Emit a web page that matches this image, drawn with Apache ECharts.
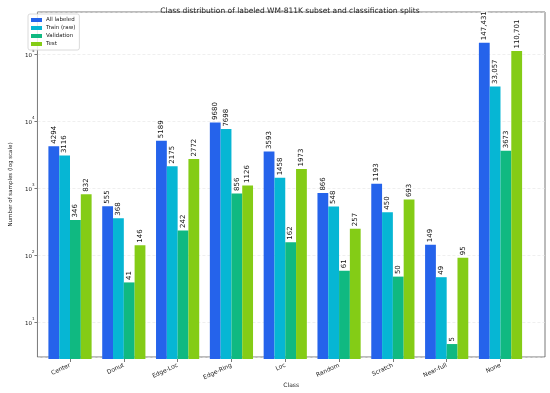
<!DOCTYPE html>
<html>
<head>
<meta charset="utf-8">
<script src="https://cdn.jsdelivr.net/npm/echarts@6/dist/echarts.min.js"></script>
<style>html,body{margin:0;padding:0;background:#fff}#c{width:550px;height:393px}</style>
</head>
<body>
<div id="c"></div>
<script>
const categories = ['Center','Donut','Edge-Loc','Edge-Ring','Loc','Random','Scratch','Near-full','None'];
const allLabeled = [4294, 555, 5189, 9680, 3593, 866, 1193, 149, 147431];
const trainRaw   = [3116, 368, 2175, 7698, 1458, 548, 450, 49, 33057];
const validation = [346, 41, 242, 856, 162, 61, 50, 5, 3673];
const test       = [832, 146, 2772, 1126, 1973, 257, 693, 95, 110701];
const seriesNames = ['All labeled','Train (raw)','Validation','Test'];
const colors = ['#2563eb','#06b6d4','#10b981','#84cc16'];

const FONT = 'DejaVu Sans';
const chart = echarts.init(document.getElementById('c'), null, {renderer:'canvas'});

function fmt(v){ return v >= 10000 ? v.toLocaleString('en-US') : String(v); }
function isPow(v){ const l = Math.log10(v); return Math.abs(l - Math.round(l)) < 1e-6; }

const yMin = 3, yMax = 420000;
const seriesData = [allLabeled, trainRaw, validation, test];

const option = {
  animation: false,
  backgroundColor: '#fff',
  textStyle: {fontFamily: FONT},
  title: {
    text: 'Class distribution of labeled WM-811K subset and classification splits',
    left: 285, top: 2, textAlign: 'center',
    textStyle: {fontFamily: FONT, fontSize: 7.5, fontWeight: 'normal', color: '#222'}
  },
  legend: {
    data: seriesNames,
    orient: 'vertical', left: 28, top: 14,
    itemWidth: 11, itemHeight: 4, itemGap: 2,
    icon: 'rect',
    backgroundColor: 'rgba(255,255,255,0.85)', borderColor: '#d0d0d0', borderWidth: 0.8, borderRadius: 2,
    padding: [3, 4, 3, 3],
    textStyle: {fontFamily: FONT, fontSize: 5.5, color: '#222', padding: [0,0,0,-1]}
  },
  grid: [
    {left: 25, right: 5, top: 12, bottom: 34, show: true, borderColor: '#555', borderWidth: 0.8, backgroundColor: 'transparent'},
    {left: 43.1, right: 22.6, top: 12, bottom: 34}
  ],
  xAxis: [
    {type: 'value', gridIndex: 0, min: 0, max: 1,
     name: 'Class', nameLocation: 'middle', nameGap: 25,
     nameTextStyle: {fontFamily: FONT, fontSize: 6, color: '#222'},
     axisLine: {show: false}, axisTick: {show: false}, axisLabel: {show: false}, splitLine: {show: false}},
    {type: 'category', gridIndex: 1, data: categories,
     axisLine: {show: false},
     axisTick: {show: true, alignWithLabel: true, length: 3, lineStyle: {color: '#555', width: 0.8}},
     axisLabel: {fontFamily: FONT, fontSize: 6, color: '#222', rotate: 25, margin: 6, interval: 0},
     splitLine: {show: false}}
  ],
  yAxis: [
    {type: 'log', logBase: 10, gridIndex: 0, min: yMin, max: yMax,
     name: 'Number of samples (log scale)', nameLocation: 'middle', nameGap: 16,
     nameTextStyle: {fontFamily: FONT, fontSize: 5.5, color: '#222'},
     axisLine: {show: false},
     axisTick: {show: true, length: 3, lineStyle: {color: '#555', width: 0.8}},
     axisLabel: {
       showMinLabel: false, showMaxLabel: false, margin: 3,
       formatter: function(v){ if (!isPow(v)) return ''; return '{b|10}{s|' + Math.round(Math.log10(v)) + '}'; },
       rich: {
         b: {fontFamily: FONT, fontSize: 5.5, color: '#222', lineHeight: 9, verticalAlign: 'bottom'},
         s: {fontFamily: FONT, fontSize: 4, color: '#222', lineHeight: 9, verticalAlign: 'top'}
       }
     },
     splitLine: {show: true, lineStyle: {color: '#e4e4e4', type: [3, 2], width: 0.6}}},
    {type: 'log', logBase: 10, gridIndex: 1, min: yMin, max: yMax, show: false, splitLine: {show: false}}
  ],
  series: seriesData.map((d, i) => ({
    name: seriesNames[i],
    type: 'bar',
    xAxisIndex: 1, yAxisIndex: 1,
    data: d,
    barWidth: 10.8,
    barGap: '0%',
    itemStyle: {color: colors[i]},
    label: {
      show: true, position: 'top', rotate: 90, align: 'left', verticalAlign: 'middle', distance: 1.5,
      fontFamily: FONT, fontSize: 7, color: '#111',
      backgroundColor: 'rgba(255,255,255,0.85)', padding: [0, 0, 0, 1],
      formatter: p => fmt(p.value)
    }
  }))
};
chart.setOption(option);
</script>
</body>
</html>
